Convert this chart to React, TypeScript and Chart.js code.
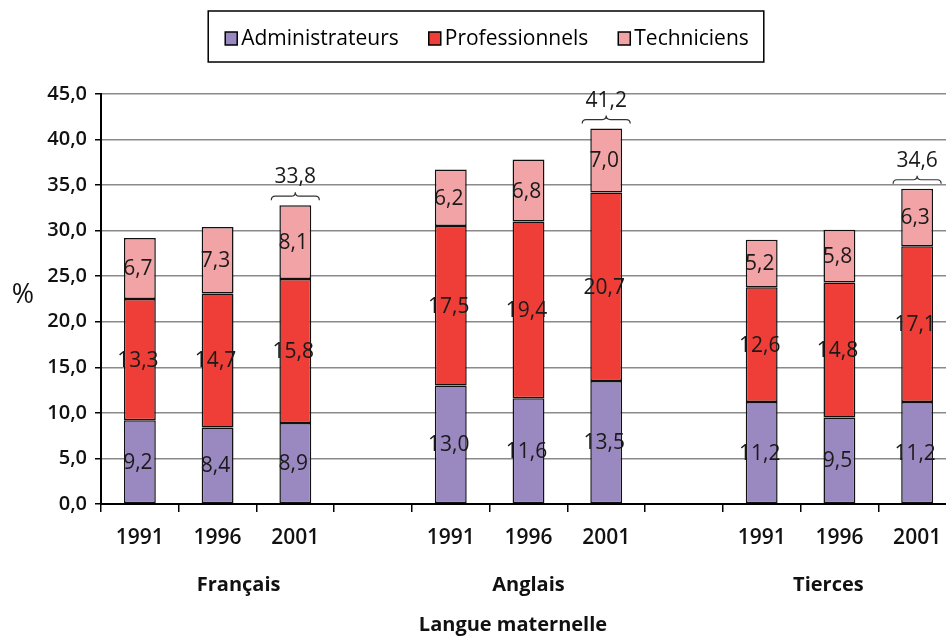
import React, { useEffect, useRef } from 'react';
import { Chart, registerables } from 'chart.js';

Chart.register(...registerables);

const categories = ['1991', '1996', '2001', '', '1991', '1996', '2001', '', '1991', '1996', '2001'];
const groupNames = ['Français', 'Anglais', 'Tierces'];
const groupCenterIndex = [1, 5, 9];
const seriesNames = ['Administrateurs', 'Professionnels', 'Techniciens'];
const administrateurs = [9.2, 8.4, 8.9, null, 13.0, 11.6, 13.5, null, 11.2, 9.5, 11.2];
const professionnels = [13.3, 14.7, 15.8, null, 17.5, 19.4, 20.7, null, 12.6, 14.8, 17.1];
const techniciens = [6.7, 7.3, 8.1, null, 6.2, 6.8, 7.0, null, 5.2, 5.8, 6.3];
const totalLabels = [null, null, 33.8, null, null, null, 41.2, null, null, null, 34.6];
const yMin = 0;
const yMax = 45;
const yStep = 5;
const xAxisTitle = 'Langue maternelle';
const yAxisTitle = '%';

const colors = ['#9a88c1', '#ee3e37', '#f2a3a6'];
const FONT = '"Open Sans", "DejaVu Sans", sans-serif';
const fmt = (v: number) => v.toFixed(1).replace('.', ',');

const overlayPlugin = {
  id: 'overlay',
  afterDatasetsDraw(chart: any) {
    const ctx = chart.ctx;
    ctx.save();
    ctx.font = `400 21px ${FONT}`;
    ctx.fillStyle = '#1a1a1a';
    ctx.textAlign = 'center';
    ctx.textBaseline = 'middle';
    chart.data.datasets.forEach((ds: any, di: number) => {
      const meta = chart.getDatasetMeta(di);
      meta.data.forEach((bar: any, i: number) => {
        const v = ds.data[i];
        if (v === null || v === undefined) return;
        const { x, y, base } = bar.getProps(['x', 'y', 'base'], true);
        ctx.fillText(fmt(v), x - 2, (y + base) / 2 + 1);
      });
    });
    ctx.restore();
  },
  afterDraw(chart: any) {
    const ctx = chart.ctx;
    const area = chart.chartArea;
    ctx.save();
    // totals with braces
    const topMeta = chart.getDatasetMeta(chart.data.datasets.length - 1);
    totalLabels.forEach((t, i) => {
      if (t === null) return;
      const bar: any = topMeta.data[i];
      const { x, y } = bar.getProps(['x', 'y'], true);
      const yb = y - 9;
      const w = 24;
      ctx.strokeStyle = '#333';
      ctx.lineWidth = 1.2;
      ctx.beginPath();
      ctx.moveTo(x - w, yb + 4);
      ctx.quadraticCurveTo(x - w, yb, x - w + 4, yb);
      ctx.lineTo(x - 4, yb);
      ctx.quadraticCurveTo(x, yb, x, yb - 4);
      ctx.quadraticCurveTo(x, yb, x + 4, yb);
      ctx.lineTo(x + w - 4, yb);
      ctx.quadraticCurveTo(x + w, yb, x + w, yb + 4);
      ctx.stroke();
      ctx.font = `400 21px ${FONT}`;
      ctx.fillStyle = '#1a1a1a';
      ctx.textAlign = 'center';
      ctx.textBaseline = 'middle';
      ctx.fillText(fmt(t), x, yb - 19);
    });

    // group labels
    const xs = chart.scales.x;
    const groupOffsets = [21, 0, -11];
    ctx.font = `700 20px ${FONT}`;
    ctx.fillStyle = '#111';
    ctx.textAlign = 'center';
    ctx.textBaseline = 'middle';
    groupNames.forEach((g, gi) => {
      ctx.fillText(g, xs.getPixelForValue(groupCenterIndex[gi]) + groupOffsets[gi], 585);
    });
    // x axis title
    ctx.fillText(xAxisTitle, 513, 625);
    // y axis title
    ctx.font = `400 27px ${FONT}`;
    ctx.fillText(yAxisTitle, 23, (area.top + area.bottom) / 2 - 4);

    // legend
    ctx.font = `400 21px ${FONT}`;
    const box = 12;
    const gapBoxText = 4;
    const itemGap = 30;
    const widths = seriesNames.map((n) => ctx.measureText(n).width);
    const total = widths.reduce((a, b) => a + b, 0) + seriesNames.length * (box + gapBoxText) + itemGap * (seriesNames.length - 1);
    let lx = 487 - total / 2;
    const ly = 38;
    ctx.strokeStyle = '#000';
    ctx.lineWidth = 1.5;
    ctx.strokeRect(lx - 17, 11, total + 32, 51);
    ctx.textAlign = 'left';
    seriesNames.forEach((n, i) => {
      ctx.fillStyle = colors[i];
      ctx.fillRect(lx, ly - 6, box, 13);
      ctx.strokeStyle = '#000';
      ctx.lineWidth = 1.5;
      ctx.strokeRect(lx, ly - 6, box, 13);
      ctx.fillStyle = '#000';
      ctx.fillText(n, lx + box + gapBoxText, ly + 1);
      lx += box + gapBoxText + widths[i] + itemGap;
    });
    ctx.restore();
  },
};

export default function App() {
  const ref = useRef<HTMLCanvasElement>(null);
  useEffect(() => {
    if (!ref.current) return;
    const series = [administrateurs, professionnels, techniciens];
    const chart = new Chart(ref.current, {
      type: 'bar',
      data: {
        labels: categories,
        datasets: seriesNames.map((name, i) => ({
          label: name,
          data: series[i],
          backgroundColor: colors[i],
          borderColor: '#111',
          borderWidth: 1.5,
          borderSkipped: false,
          barPercentage: 0.41,
          categoryPercentage: 1,
        })),
      },
      options: {
        responsive: false,
        animation: false,
        devicePixelRatio: 1,
        layout: { padding: { top: 94, right: 2, left: 0, bottom: 0 } },
        plugins: { legend: { display: false }, tooltip: { enabled: false } },
        scales: {
          x: {
            stacked: true,
            afterFit: (s: any) => { s.height = 132; },
            grid: { display: true, drawOnChartArea: false, offset: true, tickLength: 8, tickColor: '#000', lineWidth: 1.5 },
            border: { display: true, color: '#000', width: 2 },
            ticks: { color: '#111', padding: 13, font: { family: FONT, size: 21, weight: '600' } },
          },
          y: {
            stacked: true,
            min: yMin,
            max: yMax,
            afterFit: (s: any) => { s.width = 101; },
            grid: { color: '#8a8a8a', lineWidth: 1.5, tickLength: 6, tickColor: '#000' },
            border: { display: true, color: '#000', width: 2 },
            ticks: {
              stepSize: yStep,
              color: '#111',
              padding: 8,
              font: { family: FONT, size: 20, weight: '600' },
              callback: (v: any) => fmt(Number(v)),
            },
          },
        },
      },
      plugins: [overlayPlugin],
    });
    return () => chart.destroy();
  }, []);
  return (
    <div style={{ position: 'absolute', left: 0, top: 0, width: 946, height: 636, overflow: 'hidden', background: '#fff' }}>
      <canvas ref={ref} width={958} height={636} style={{ display: 'block' }} />
    </div>
  );
}
